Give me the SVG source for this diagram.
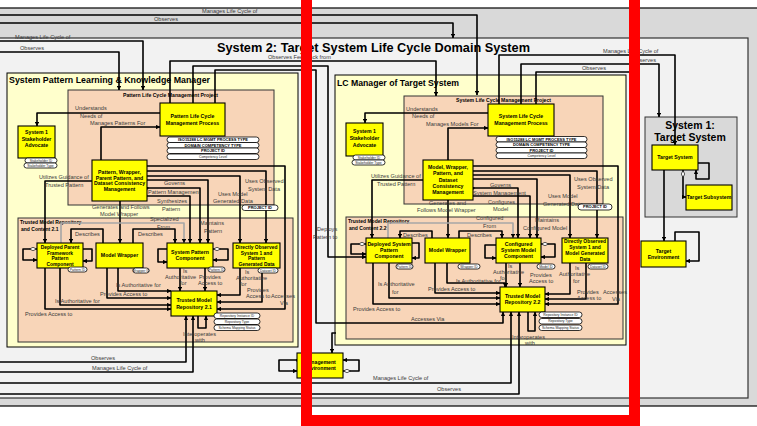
<svg xmlns="http://www.w3.org/2000/svg" width="757" height="426" viewBox="0 0 757 426">
<defs>
  <marker id="arr" viewBox="0 0 6 6" refX="5.6" refY="3" markerWidth="4.5" markerHeight="4.5" markerUnits="userSpaceOnUse" orient="auto">
    <path d="M0,0 L6,3 L0,6 z" fill="#000"/>
  </marker>
  <marker id="dia" viewBox="0 0 12 6" refX="0" refY="3" markerWidth="8" markerHeight="4" markerUnits="userSpaceOnUse" orient="auto">
    <path d="M0.5,3 L6,0.5 L11.5,3 L6,5.5 z" fill="#fff" stroke="#000" stroke-width="1"/>
  </marker>
  <marker id="dot" viewBox="0 0 6 6" refX="3" refY="3" markerWidth="3" markerHeight="3" markerUnits="userSpaceOnUse">
    <circle cx="3" cy="3" r="3" fill="#000"/>
  </marker>
</defs>
<style>
  .outer { fill: #d9d9d9; stroke: #000; stroke-width: 1.2; }
  .sys2 { fill: #f2f2f2; stroke: #333; stroke-width: 1.2; }
  .cream { fill: #ffffcc; stroke: #000; stroke-width: 1; }
  .peach { fill: #f8d5b8; stroke: #333; stroke-width: 1; }
  .gbox { fill: #d9d9d9; stroke: #333; stroke-width: 1; }
  .node { fill: #ffff00; stroke: #000; stroke-width: 1.1; }
  .pill { fill: #fff; stroke: #000; stroke-width: 0.8; }
  .c { fill: none; stroke: #000; stroke-width: 1.6; stroke-linejoin: round; }
  .ca { marker-end: url(#arr); }
  .cg { stroke: #a6a6a6; }
  text { font-family: "Liberation Sans", Arial, sans-serif; }
  .nt { font-size: 5.2px; font-weight: bold; text-anchor: middle; fill: #000; }
  .nt4 { font-size: 4.9px; font-weight: bold; text-anchor: middle; fill: #000; }
  .lb { font-size: 5.6px; fill: #3a3a3a; }
  .pt { font-size: 3.4px; text-anchor: middle; fill: #222; }
  .ptb { font-size: 4px; font-weight: bold; text-anchor: middle; fill: #000; }
  .ct { font-weight: bold; fill: #000; }
</style>

<!-- outer frame and System 2 boundary -->
<rect class="outer" x="-10" y="8" width="780" height="398"/>
<rect class="sys2" x="-10" y="38" width="758" height="360"/>
<text class="ct" x="217" y="52" font-size="12.5" textLength="313" lengthAdjust="spacingAndGlyphs">System 2: Target System Life Cycle Domain System</text>

<!-- System Pattern Learning & Knowledge Manager -->
<g id="pattern-manager">
  <rect class="cream" x="7" y="73" width="291" height="274"/>
  <text class="ct" x="9" y="83" font-size="8.3" textLength="201" lengthAdjust="spacingAndGlyphs">System Pattern Learning &amp; Knowledge Manager</text>
</g>
<g id="pattern-project">
  <rect class="peach" x="68" y="90" width="206" height="115"/>
  <text class="ct" x="123" y="96.5" font-size="4.8" textLength="95" lengthAdjust="spacingAndGlyphs">Pattern Life Cycle Management Project</text>
</g>
<g id="repo-content-21">
  <rect class="peach" x="18" y="218" width="275" height="124"/>
  <text class="ct" x="20" y="224" font-size="5">Trusted Model Repository</text>
  <text class="ct" x="21" y="230.5" font-size="5">and Content 2.1</text>
</g>

<!-- LC Manager of Target System -->
<g id="lc-manager">
  <rect class="cream" x="335" y="75" width="291" height="270"/>
  <text class="ct" x="337" y="86" font-size="8.3" textLength="122" lengthAdjust="spacingAndGlyphs">LC Manager of Target System</text>
</g>
<g id="system-project">
  <rect class="peach" x="404" y="96" width="199" height="108"/>
  <text class="ct" x="456" y="101.5" font-size="4.8" textLength="95" lengthAdjust="spacingAndGlyphs">System Life Cycle Management Project</text>
</g>
<g id="repo-content-22">
  <rect class="peach" x="346" y="217" width="277" height="122"/>
  <text class="ct" x="348" y="223" font-size="5">Trusted Model Repository</text>
  <text class="ct" x="349" y="229.5" font-size="5">and Content 2.2</text>
</g>

<!-- System 1: Target System -->
<g id="system1">
  <rect class="gbox" x="645" y="117" width="92" height="100"/>
  <text class="ct" x="690" y="128.5" font-size="10.5" text-anchor="middle">System 1:</text>
  <text class="ct" x="690" y="140.5" font-size="10.5" text-anchor="middle">Target System</text>
</g>

<!-- connectors -->
<g id="connectors">
  <!-- outer relations -->
  <path class="c ca" d="M-10,15 H477 V95"/>
  <path class="c ca" d="M-10,23 H453 V38"/>
  <path class="c ca" d="M-10,41 H143 V90"/>
  <path class="c ca" d="M-10,52 H119 V90"/>
  <path class="c ca" d="M170,103 V61 H436 V96"/>
  <path class="c ca" d="M193,103 V66 H328 V257 H366"/>
  <path class="c ca" d="M215,103 V70 H316 V323 H503 V312"/>
  <path class="c ca" d="M499,104 V55 H675 V145"/>
  <path class="c ca" d="M521,104 V64 H659 V117"/>
  <path class="c" d="M536,104 V72 H634 V250"/>
  <path class="c ca" d="M-10,362 H186 V316"/>
  <path class="c ca" d="M-10,372 H193 V316"/>
  <path class="c ca" d="M-10,383 H511 V312"/>
  <path class="c ca" d="M-10,394 H519 V312"/>
  <path class="c ca" d="M198,316 V328 H206 V316"/>
  <path class="c ca" d="M528,312 V331 H535 V312"/>
  <path class="c ca" d="M336,333 H332 V353"/>
  <path class="c ca" d="M297,360 H279 V371 H297" style="marker-start:url(#dot)"/>
  <path class="c ca" d="M343,371 H359 V360 H343" style="marker-start:url(#dia)"/>

  <!-- target system relations -->
  <path class="c ca" d="M698,163 H709 V179 H696 V170"/>
  <path class="c ca" d="M683,170 V197 H686" style="marker-start:url(#dia)"/>
  <path class="c ca" d="M664,170 V241"/>
  <path class="c ca" d="M675,241 V232 H699 V261 H686"/>

  <!-- pattern manager internals -->
  <path class="c ca" d="M160,113 H37 V126"/>
  <path class="c ca" d="M101,160 V127 H160"/>
  <path class="c ca" d="M92,181 H45 V243"/>
  <path class="c ca" d="M120,201 V243"/>
  <path class="c ca" d="M103,243 V229 H71 V243"/>
  <path class="c ca" d="M133,243 V229 H175 V243"/>
  <path class="c ca cg" d="M61,243 V223 H184 V243"/>
  <path class="c ca" d="M147,166 H285 V309 H217"/>
  <path class="c ca" d="M147,171 H266 V243"/>
  <path class="c ca" d="M147,176 H240 V243"/>
  <path class="c ca" d="M147,180 H208 V243"/>
  <path class="c ca" d="M147,188 H200 V243" style="marker-start:url(#dot)"/>
  <path class="c ca" d="M147,196 H190 V243"/>
  <path class="c ca" d="M37,249 H23 V260 H37" style="marker-start:url(#dia)"/>
  <path class="c ca" d="M83,249 H92 V261 H83"/>
  <path class="c ca" d="M167,249 H158 V262 H167"/>
  <path class="c ca" d="M213,249 H228 V260 H213" style="marker-start:url(#dia)"/>
  <path class="c ca" d="M45,268 V309 H171"/>
  <path class="c ca" d="M60,268 V305 H171"/>
  <path class="c ca" d="M107,268 V298 H171"/>
  <path class="c ca" d="M118,268 V291 H171"/>
  <path class="c ca" d="M180,268 V291"/>
  <path class="c ca" d="M205,268 V291"/>
  <path class="c ca" d="M240,268 V295 H217"/>
  <path class="c ca" d="M262,268 V302 H217"/>

  <!-- LC manager internals -->
  <path class="c ca" d="M488,113 H365 V123"/>
  <path class="c ca" d="M448,160 V128 H488"/>
  <path class="c ca" d="M423,180 H372 V238"/>
  <path class="c ca" d="M448,200 V238"/>
  <path class="c ca" d="M432,238 V231 H400 V238"/>
  <path class="c ca" d="M459,238 V231 H502 V238"/>
  <path class="c ca cg" d="M388,238 V223 H513 V238"/>
  <path class="c ca" d="M473,166 H618 V304 H545"/>
  <path class="c ca" d="M473,171 H597 V238"/>
  <path class="c ca" d="M473,175 H570 V238"/>
  <path class="c ca" d="M473,179 H537 V238"/>
  <path class="c ca" d="M473,188 H518 V238" style="marker-start:url(#dot)"/>
  <path class="c ca" d="M473,196 H530 V238"/>
  <path class="c ca" d="M366,244 H351 V254 H366" style="marker-start:url(#dia)"/>
  <path class="c ca" d="M412,243 H419 V258 H412"/>
  <path class="c ca" d="M496,245 H485 V258 H496"/>
  <path class="c ca" d="M541,244 H555 V257 H541" style="marker-start:url(#dia)"/>
  <path class="c ca" d="M373,263 V304 H500"/>
  <path class="c ca" d="M389,263 V298 H500"/>
  <path class="c ca" d="M435,263 V293 H500"/>
  <path class="c ca" d="M447,263 V283 H505 V287"/>
  <path class="c ca" d="M506,263 V287"/>
  <path class="c ca" d="M520,263 V287"/>
  <path class="c ca" d="M570,263 V294 H545"/>
  <path class="c ca" d="M586,263 V299 H545"/>
</g>

<!-- connector labels -->
<g id="labels">
  <text class="lb" x="202" y="13">Manages Life Cycle of</text>
  <text class="lb" x="154" y="21">Observes</text>
  <text class="lb" x="15" y="39">Manages Life Cycle of</text>
  <text class="lb" x="20" y="49.5">Observes</text>
  <text class="lb" x="268" y="59">Observes Feedback from</text>
  <text class="lb" x="603" y="52.5">Manages Life Cycle of</text>
  <text class="lb" x="632" y="62">Observes</text>
  <text class="lb" x="582" y="70">Observes</text>
  <text class="lb" x="317" y="231">Deploys</text>
  <text class="lb" x="313" y="239">Pattern to</text>
  <text class="lb" x="75" y="110">Understands</text>
  <text class="lb" x="80" y="118">Needs of</text>
  <text class="lb" x="90" y="125">Manages Patterns For</text>
  <text class="lb" x="39" y="178.5">Utilizes Guidance of</text>
  <text class="lb" x="45" y="186.5">Trusted Pattern</text>
  <text class="lb" x="164" y="185">Governs</text>
  <text class="lb" x="148" y="194">Pattern Management</text>
  <text class="lb" x="157" y="203">Synthesizes</text>
  <text class="lb" x="162" y="211">Pattern</text>
  <text class="lb" x="245" y="183">Uses Observed</text>
  <text class="lb" x="248" y="190.5">System Data</text>
  <text class="lb" x="218" y="195.5">Uses Model</text>
  <text class="lb" x="213" y="203">Generated Data</text>
  <text class="lb" x="92" y="208.5">Generates and Follows</text>
  <text class="lb" x="100" y="216">Model Wrapper</text>
  <text class="lb" x="150" y="220.5">Specialized</text>
  <text class="lb" x="157" y="228.5">From</text>
  <text class="lb" x="200" y="225">Maintains</text>
  <text class="lb" x="204" y="232.5">Pattern</text>
  <text class="lb" x="75" y="236">Describes</text>
  <text class="lb" x="138" y="236">Describes</text>
  <text class="lb" x="183" y="273">Is</text>
  <text class="lb" x="165" y="278.5">Authoritative</text>
  <text class="lb" x="180" y="284.5">for</text>
  <text class="lb" x="199" y="278.5">Provides</text>
  <text class="lb" x="198" y="284.5">Access to</text>
  <text class="lb" x="245" y="274">Is</text>
  <text class="lb" x="236" y="280">Authoritative</text>
  <text class="lb" x="240" y="286">for</text>
  <text class="lb" x="247" y="291.5">Provides</text>
  <text class="lb" x="246" y="297.5">Access to</text>
  <text class="lb" x="271" y="298">Accesses</text>
  <text class="lb" x="280" y="304.5">Via</text>
  <text class="lb" x="116" y="286.5">Is Authoritative for</text>
  <text class="lb" x="100" y="296">Provides Access to</text>
  <text class="lb" x="55" y="303">Is Authoritative for</text>
  <text class="lb" x="25" y="315.5">Provides Access to</text>
  <text class="lb" x="183" y="335.5">Interoperates</text>
  <text class="lb" x="195" y="341.5">with</text>
  <text class="lb" x="91" y="360">Observes</text>
  <text class="lb" x="92" y="370">Manages Life Cycle of</text>

  <text class="lb" x="406" y="111">Understands</text>
  <text class="lb" x="412" y="118">Needs of</text>
  <text class="lb" x="426" y="126">Manages Models For</text>
  <text class="lb" x="371" y="178">Utilizes Guidance of</text>
  <text class="lb" x="377" y="186">Trusted Pattern</text>
  <text class="lb" x="490" y="187">Governs</text>
  <text class="lb" x="473" y="195">System Management</text>
  <text class="lb" x="488" y="204">Configures</text>
  <text class="lb" x="493" y="211">Model</text>
  <text class="lb" x="574" y="181">Uses Observed</text>
  <text class="lb" x="577" y="189">System Data</text>
  <text class="lb" x="548" y="198">Uses Model</text>
  <text class="lb" x="543" y="206">Generated Data</text>
  <text class="lb" x="429" y="205">Generates and</text>
  <text class="lb" x="417" y="212">Follows Model Wrapper</text>
  <text class="lb" x="476" y="220">Configured</text>
  <text class="lb" x="483" y="228">From</text>
  <text class="lb" x="535" y="222">Maintains</text>
  <text class="lb" x="523" y="230">Configured Model</text>
  <text class="lb" x="403" y="236.5">Describes</text>
  <text class="lb" x="467" y="236.5">Describes</text>
  <text class="lb" x="508" y="267.5">Is</text>
  <text class="lb" x="493" y="273.5">Authoritative</text>
  <text class="lb" x="500" y="279.5">for</text>
  <text class="lb" x="530" y="276.5">Provides</text>
  <text class="lb" x="529" y="283">Access to</text>
  <text class="lb" x="575" y="270">Is</text>
  <text class="lb" x="559" y="276">Authoritative</text>
  <text class="lb" x="573" y="282.5">for</text>
  <text class="lb" x="577" y="293.5">Provides</text>
  <text class="lb" x="577" y="300">Access to</text>
  <text class="lb" x="603" y="293.5">Accesses</text>
  <text class="lb" x="612" y="300.5">Via</text>
  <text class="lb" x="378" y="286">Is Authoritative</text>
  <text class="lb" x="392" y="293.5">for</text>
  <text class="lb" x="428" y="291">Provides Access to</text>
  <text class="lb" x="456" y="282.5">Is Authoritative for</text>
  <text class="lb" x="353" y="310.5">Provides Access to</text>
  <text class="lb" x="411" y="320.5">Accesses Via</text>
  <text class="lb" x="512" y="338.5">Interoperates</text>
  <text class="lb" x="525" y="344.5">with</text>
  <text class="lb" x="373" y="380">Manages Life Cycle of</text>
  <text class="lb" x="437" y="391">Observes</text>
</g>

<!-- pattern manager nodes -->
<g id="stakeholder-advocate-1">
  <rect class="node" x="18" y="126" width="37" height="32"/>
  <text class="nt" x="36.5" y="134">System 1</text>
  <text class="nt" x="36.5" y="140.5">Stakeholder</text>
  <text class="nt" x="36.5" y="147">Advocate</text>
  <rect class="pill" x="25" y="158" width="32" height="5" rx="2.5"/>
  <text class="pt" x="41" y="161.7">Stakeholder ID</text>
  <rect class="pill" x="24" y="163" width="33" height="5" rx="2.5"/>
  <text class="pt" x="40.5" y="166.7">Stakeholder Type</text>
</g>
<g id="pattern-lc-process">
  <rect class="node" x="160" y="103" width="65" height="33"/>
  <text class="nt" x="192.5" y="117.5">Pattern Life Cycle</text>
  <text class="nt" x="192.5" y="124.5">Management Process</text>
  <rect class="pill" x="167" y="137" width="92" height="5.5" rx="2.7"/>
  <text class="ptb" x="213" y="141.2">ISO15288 LC MGMT PROCESS TYPE</text>
  <rect class="pill" x="167" y="142.5" width="92" height="5.5" rx="2.7"/>
  <text class="ptb" x="213" y="146.7">DOMAIN COMPETENCY TYPE</text>
  <rect class="pill" x="167" y="148" width="92" height="5.5" rx="2.7"/>
  <text class="ptb" x="213" y="152.2">PROJECT ID</text>
  <rect class="pill" x="167" y="154" width="92" height="5.5" rx="2.7"/>
  <text class="pt" x="213" y="158">Competency Level</text>
</g>
<g id="pattern-project-id">
  <rect class="pill" x="242" y="205" width="36" height="5.5" rx="2.7"/>
  <text class="ptb" x="260" y="209.2">PROJECT ID</text>
</g>
<g id="pattern-consistency">
  <rect class="node" x="92" y="160" width="55" height="41"/>
  <text class="nt" x="119.5" y="173.5">Pattern, Wrapper,</text>
  <text class="nt" x="119.5" y="179.5">Parent Pattern, and</text>
  <text class="nt" x="119.5" y="185.4">Dataset Consistency</text>
  <text class="nt" x="119.5" y="191.3">Management</text>
</g>
<g id="deployed-parent-component">
  <rect class="node" x="37" y="243" width="46" height="25"/>
  <text class="nt4" x="60" y="248.8">Deployed Parent</text>
  <text class="nt4" x="60" y="254.5">Framework</text>
  <text class="nt4" x="60" y="260.1">Pattern</text>
  <text class="nt4" x="60" y="265.8">Component</text>
  <rect class="pill" x="68" y="267" width="19" height="5" rx="2.5"/>
  <text class="pt" x="77.5" y="270.7">Pattern ID</text>
</g>
<g id="model-wrapper-1">
  <rect class="node" x="96" y="243" width="47" height="25"/>
  <text class="nt" x="119.5" y="257">Model Wrapper</text>
  <rect class="pill" x="133" y="268" width="16" height="5" rx="2.5"/>
  <text class="pt" x="141" y="271.7">Wrapper ID</text>
</g>
<g id="system-pattern-component">
  <rect class="node" x="167" y="243" width="46" height="25"/>
  <text class="nt" x="190" y="253.6">System Pattern</text>
  <text class="nt" x="190" y="260.2">Component</text>
  <rect class="pill" x="208" y="267" width="17" height="5" rx="2.5"/>
  <text class="pt" x="216.5" y="270.7">Pattern ID</text>
</g>
<g id="observed-data-1">
  <rect class="node" x="233" y="243" width="47" height="25"/>
  <text class="nt4" x="256.5" y="248.8">Directly Observed</text>
  <text class="nt4" x="256.5" y="254.5">System 1 and</text>
  <text class="nt4" x="256.5" y="260.1">Pattern</text>
  <text class="nt4" x="256.5" y="265.8">Generated Data</text>
  <rect class="pill" x="258" y="268" width="20" height="5" rx="2.5"/>
  <text class="pt" x="268" y="271.7">Dataset ID</text>
</g>
<g id="repository-21">
  <rect class="node" x="171" y="291" width="46" height="25"/>
  <text class="nt" x="194" y="301.9">Trusted Model</text>
  <text class="nt" x="194" y="308.6">Repository 2.1</text>
  <rect class="pill" x="214" y="313" width="46" height="5.5" rx="2.7"/>
  <text class="pt" x="237" y="316.9">Repository Instance ID</text>
  <rect class="pill" x="214" y="319" width="46" height="5.5" rx="2.7"/>
  <text class="pt" x="237" y="322.9">Repository Type</text>
  <rect class="pill" x="214" y="325" width="46" height="5.5" rx="2.7"/>
  <text class="pt" x="237" y="328.9">Schema Mapping Status</text>
</g>

<!-- LC manager nodes -->
<g id="stakeholder-advocate-2">
  <rect class="node" x="346" y="123" width="37" height="33"/>
  <text class="nt" x="364.5" y="133">System 1</text>
  <text class="nt" x="364.5" y="140">Stakeholder</text>
  <text class="nt" x="364.5" y="147">Advocate</text>
  <rect class="pill" x="353" y="155" width="32" height="5" rx="2.5"/>
  <text class="pt" x="369" y="158.7">Stakeholder ID</text>
  <rect class="pill" x="352" y="160" width="33" height="5" rx="2.5"/>
  <text class="pt" x="368.5" y="163.7">Stakeholder Type</text>
</g>
<g id="system-lc-process">
  <rect class="node" x="488" y="104" width="66" height="32"/>
  <text class="nt" x="521" y="118">System Life Cycle</text>
  <text class="nt" x="521" y="125">Management Process</text>
  <rect class="pill" x="496" y="136.5" width="91" height="5.5" rx="2.7"/>
  <text class="ptb" x="541.5" y="140.7">ISO15288 LC MGMT PROCESS TYPE</text>
  <rect class="pill" x="496" y="142" width="91" height="5.5" rx="2.7"/>
  <text class="ptb" x="541.5" y="146.2">DOMAIN COMPETENCY TYPE</text>
  <rect class="pill" x="496" y="147.5" width="91" height="5.5" rx="2.7"/>
  <text class="ptb" x="541.5" y="151.7">PROJECT ID</text>
  <rect class="pill" x="496" y="153" width="91" height="5.5" rx="2.7"/>
  <text class="pt" x="541.5" y="157">Competency Level</text>
</g>
<g id="system-project-id">
  <rect class="pill" x="578" y="204" width="34" height="6" rx="3"/>
  <text class="ptb" x="595" y="208.4">PROJECT ID</text>
</g>
<g id="model-consistency">
  <rect class="node" x="423" y="160" width="50" height="40"/>
  <text class="nt" x="448" y="168.5">Model, Wrapper,</text>
  <text class="nt" x="448" y="175">Pattern, and</text>
  <text class="nt" x="448" y="181.6">Dataset</text>
  <text class="nt" x="448" y="187.6">Consistency</text>
  <text class="nt" x="448" y="193.6">Management</text>
</g>
<g id="deployed-system-component">
  <rect class="node" x="366" y="238" width="46" height="25"/>
  <text class="nt" x="389" y="245.8">Deployed System</text>
  <text class="nt" x="389" y="251.8">Pattern</text>
  <text class="nt" x="389" y="257.8">Component</text>
  <rect class="pill" x="396" y="264" width="17" height="5" rx="2.5"/>
  <text class="pt" x="404.5" y="267.7">Pattern ID</text>
</g>
<g id="model-wrapper-2">
  <rect class="node" x="425" y="238" width="45" height="25"/>
  <text class="nt" x="447.5" y="251.8">Model Wrapper</text>
  <rect class="pill" x="458" y="264" width="22" height="5" rx="2.5"/>
  <text class="pt" x="469" y="267.7">Wrapper ID</text>
</g>
<g id="configured-model-component">
  <rect class="node" x="496" y="238" width="45" height="25"/>
  <text class="nt" x="518.5" y="245.8">Configured</text>
  <text class="nt" x="518.5" y="251.8">System Model</text>
  <text class="nt" x="518.5" y="257.8">Component</text>
  <rect class="pill" x="537" y="264" width="18" height="5" rx="2.5"/>
  <text class="pt" x="546" y="267.7">Model ID</text>
</g>
<g id="observed-data-2">
  <rect class="node" x="562" y="238" width="46" height="25"/>
  <text class="nt4" x="585" y="242.8">Directly Observed</text>
  <text class="nt4" x="585" y="249.1">System 1 and</text>
  <text class="nt4" x="585" y="255.1">Model Generated</text>
  <text class="nt4" x="585" y="261.1">Data</text>
  <rect class="pill" x="588" y="264" width="20" height="5" rx="2.5"/>
  <text class="pt" x="598" y="267.7">Dataset ID</text>
</g>
<g id="repository-22">
  <rect class="node" x="500" y="287" width="45" height="25"/>
  <text class="nt" x="522.5" y="297.5">Trusted Model</text>
  <text class="nt" x="522.5" y="303.8">Repository 2.2</text>
  <rect class="pill" x="539" y="312" width="43" height="5.5" rx="2.7"/>
  <text class="pt" x="560.5" y="315.9">Repository Instance ID</text>
  <rect class="pill" x="539" y="318.5" width="43" height="5.5" rx="2.7"/>
  <text class="pt" x="560.5" y="322.4">Repository Type</text>
  <rect class="pill" x="539" y="325" width="43" height="5.5" rx="2.7"/>
  <text class="pt" x="560.5" y="328.9">Schema Mapping Status</text>
</g>

<!-- environment and target nodes -->
<g id="management-environment">
  <rect class="node" x="297" y="353" width="46" height="25"/>
  <text class="nt" x="320" y="363.5">Management</text>
  <text class="nt" x="320" y="370.1">Environment</text>
</g>
<g id="target-system">
  <rect class="node" x="652" y="145" width="46" height="25"/>
  <text class="nt" x="675" y="159.1">Target System</text>
</g>
<g id="target-subsystem">
  <rect class="node" x="686" y="185" width="46" height="25"/>
  <text class="nt" x="709" y="199.1">Target Subsystem</text>
</g>
<g id="target-environment">
  <rect class="node" x="641" y="241" width="45" height="26"/>
  <text class="nt" x="663.5" y="252.8">Target</text>
  <text class="nt" x="663.5" y="259.1">Environment</text>
</g>

<!-- highlight frame -->
<rect x="306.5" y="-10" width="328" height="430.5" fill="none" stroke="#ff0000" stroke-width="11"/>
</svg>
